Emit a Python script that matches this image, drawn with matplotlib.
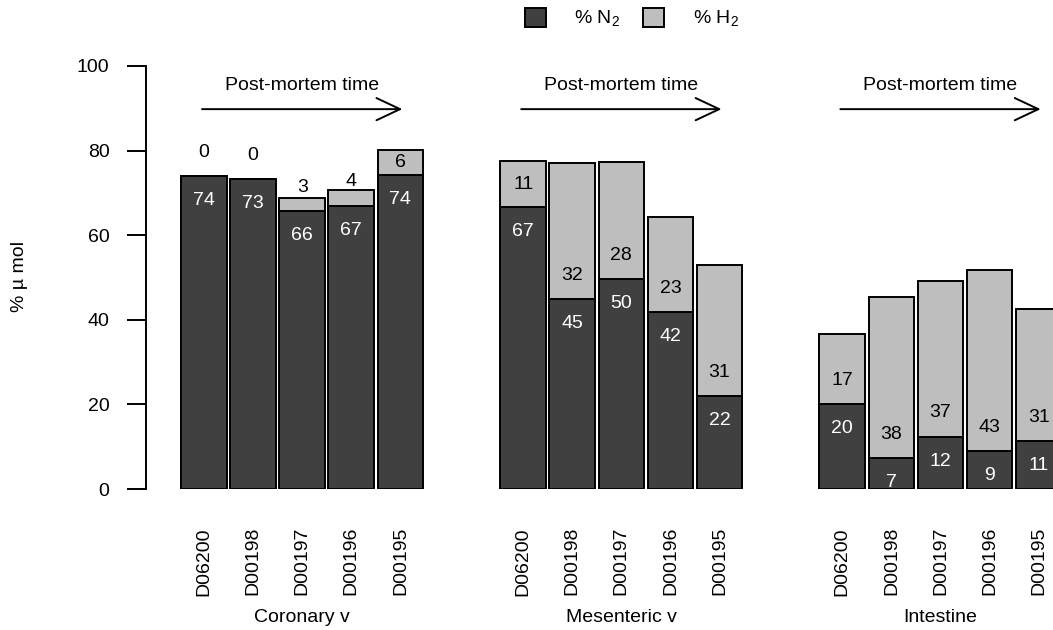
import matplotlib as mpl
mpl.use('Agg')
import matplotlib.pyplot as plt
from matplotlib.patches import Rectangle
from matplotlib.transforms import blended_transform_factory
import numpy as np

plt.rcParams['font.family'] = ['Liberation Sans', 'DejaVu Sans']
plt.rcParams['mathtext.fontset'] = 'custom'
plt.rcParams['mathtext.rm'] = 'Liberation Sans'
plt.rcParams['mathtext.it'] = 'Liberation Sans:italic'

# data
groups = ['Coronary v', 'Mesenteric v', 'Intestine']
samples = ['D06200', 'D00198', 'D00197', 'D00196', 'D00195']
n2 = [
    [73.9, 73.2, 65.7, 67.0, 74.3],
    [66.7, 44.9, 49.6, 41.8, 22.0],
    [20.1, 7.3, 12.4, 9.0, 11.3],
]
h2 = [
    [0.0, 0.0, 3.0, 3.6, 5.8],
    [10.8, 32.2, 27.7, 22.6, 31.0],
    [16.6, 38.1, 36.8, 42.8, 31.3],
]
legend_labels = [r'% $\mathrm{N}_2$', r'% $\mathrm{H}_2$']
arrow_text = 'Post-mortem time'
ylabel = '% µ mol'

dark = '#404040'
light = '#bebebe'
fs = 14
lw = 1.4

W, H = 1053, 630
fig = plt.figure(figsize=(W / 100, H / 100), dpi=100)
# plot region in pixels: x 146..1053, y 66..489
ax = fig.add_axes([146 / W, 1 - 489 / H, (W - 146) / W, (489 - 66) / H])

slot_px = 49.1
ax.set_xlim(-58 / slot_px, (W - 204) / slot_px)
ax.set_ylim(0, 100)

gstep = 6.5
trans_lbl = blended_transform_factory(ax.transData, fig.transFigure)

for g, gname in enumerate(groups):
    x = g * gstep + np.arange(len(samples))
    a = np.array(n2[g])
    b = np.array(h2[g])
    ax.bar(x, a, width=0.93, color=dark, edgecolor='black', linewidth=lw, zorder=2)
    ax.bar(x, b, bottom=a, width=0.93, color=light, edgecolor='black', linewidth=lw, zorder=2)
    for xi, ai, bi in zip(x, a, b):
        ax.text(xi, ai - 5.8, f'{ai:.0f}', color='white', ha='center', va='center',
                fontsize=fs, clip_on=True, zorder=3)
        off = min(bi / 2, 5.6) if bi >= 5 else 5.6
        ax.text(xi, ai + off, f'{bi:.0f}', color='black', ha='center', va='center',
                fontsize=fs, clip_on=True, zorder=3)
    for xi, s in zip(x, samples):
        ax.text(xi, 1 - 527 / H, s, transform=trans_lbl, rotation=90,
                ha='center', va='top', fontsize=fs)
    ax.text(x[2], 1 - 618 / H, gname, transform=trans_lbl, ha='center',
            va='center', fontsize=fs)
    # post-mortem arrow
    ax.annotate('', xy=(x[-1] + 0.04, 89.8), xytext=(x[0] - 0.04, 89.8),
                arrowprops=dict(arrowstyle='->,head_length=1.7,head_width=0.8',
                                lw=lw, color='black', shrinkA=0, shrinkB=0,
                                mutation_scale=10))
    ax.text(x[2], 95.5, arrow_text, ha='center', va='center', fontsize=fs)

for sp in ['top', 'right', 'bottom']:
    ax.spines[sp].set_visible(False)
ax.spines['left'].set_bounds(0, 100)
ax.spines['left'].set_linewidth(lw)
ax.set_xticks([])
ax.set_yticks(np.arange(0, 101, 20))
ax.tick_params(axis='y', length=13.7, width=lw, pad=12.5, labelsize=fs)

fig.text(20 / W, 1 - 277 / H, ylabel, rotation=90, ha='center', va='center', fontsize=fs)

# legend at top
for (sx, tx), lab, col in zip([(525, 574), (643, 693)], legend_labels, [dark, light]):
    fig.add_artist(Rectangle((sx / W, 1 - 27 / H), 21 / W, 19 / H, transform=fig.transFigure,
                             facecolor=col, edgecolor='black', linewidth=lw))
    fig.text(tx / W, 1 - 18 / H, lab, ha='left', va='center', fontsize=fs)

fig.savefig('out.png', dpi=100)
